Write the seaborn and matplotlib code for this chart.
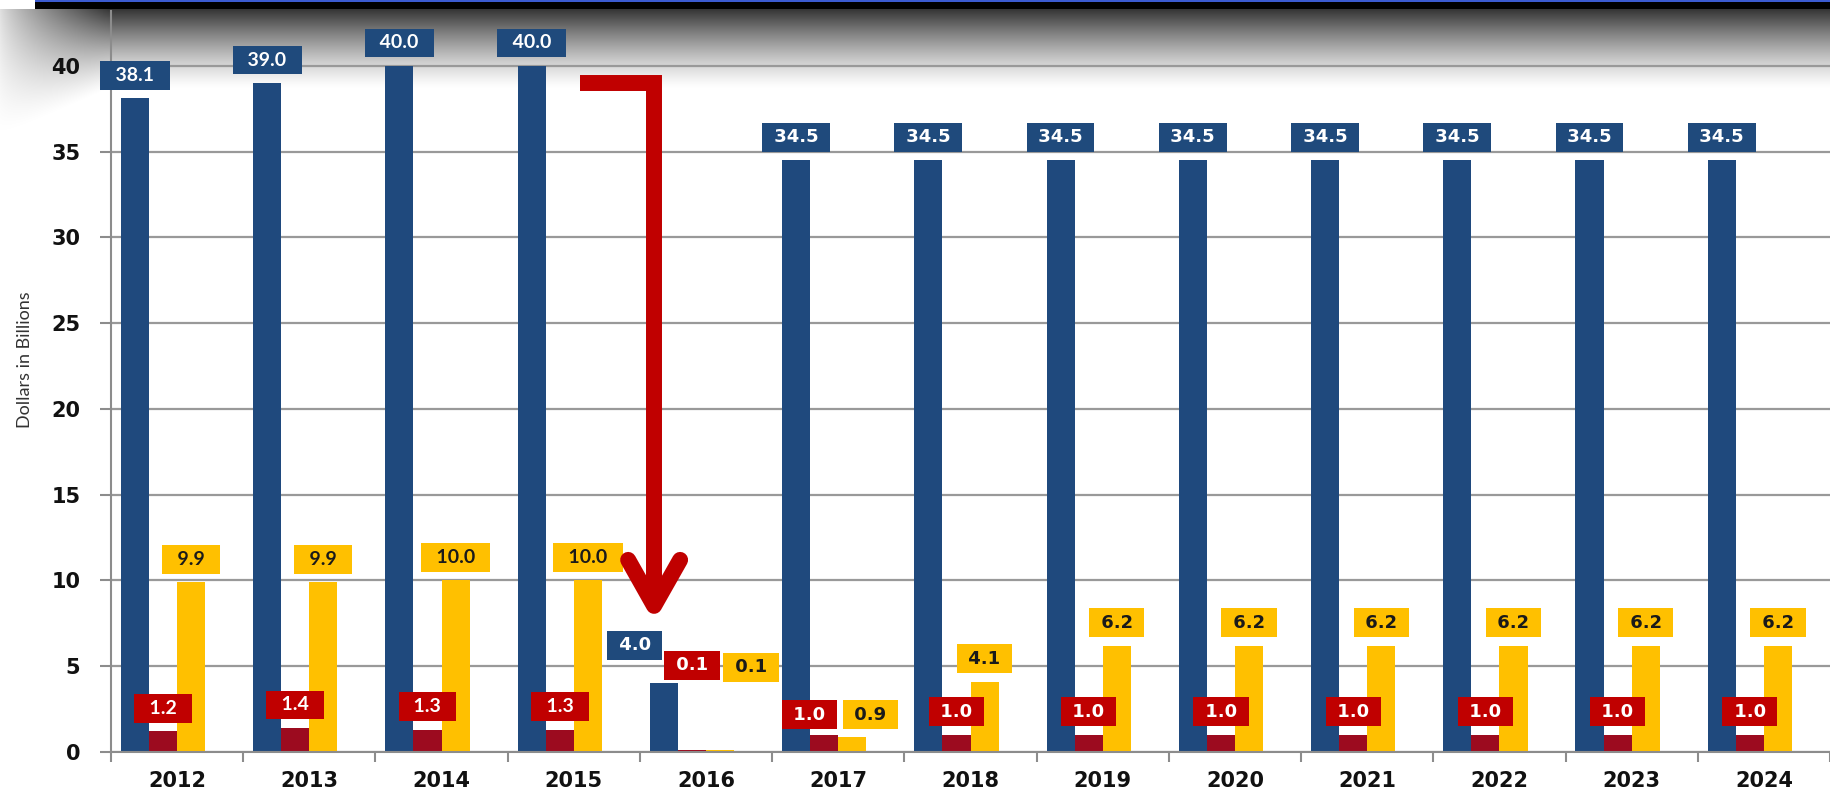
import numpy as np
import pandas as pd
import matplotlib
matplotlib.use('Agg')
import matplotlib.pyplot as plt
from matplotlib.patches import Rectangle
import seaborn as sns

# --- values (dollars in billions) ---
years = ['2012', '2013', '2014', '2015', '2016', '2017', '2018',
         '2019', '2020', '2021', '2022', '2023', '2024']
blue_vals = [38.1, 39.0, 40.0, 40.0, 4.0, 34.5, 34.5, 34.5, 34.5, 34.5, 34.5, 34.5, 34.5]
red_vals = [1.2, 1.4, 1.3, 1.3, 0.1, 1.0, 1.0, 1.0, 1.0, 1.0, 1.0, 1.0, 1.0]
yellow_vals = [9.9, 9.9, 10.0, 10.0, 0.1, 0.9, 4.1, 6.2, 6.2, 6.2, 6.2, 6.2, 6.2]
series_order = ['blue', 'red', 'yellow']
series_vals = {'blue': blue_vals, 'red': red_vals, 'yellow': yellow_vals}

bar_colors = {'blue': '#1f497d', 'red': '#9c0b1f', 'yellow': '#ffc000', 'spacer': 'white'}
box_colors = {'blue': '#1f4a7c', 'red': '#c00000', 'yellow': '#ffc000'}
text_colors = {'blue': 'white', 'red': 'white', 'yellow': '#1a1a1a'}

df = pd.DataFrame({
    'year': years * 3,
    'series': np.repeat(series_order, len(years)),
    'value': blue_vals + red_vals + yellow_vals,
})

sns.set_style('white')
plt.rcParams['font.family'] = ['DejaVu Sans']

W, H = 1830, 796
fig = plt.figure(figsize=(W / 100, H / 100), dpi=100)
fig.patch.set_facecolor('white')

# shadow under the slide title bar
bg = fig.add_axes([0, 0, 1, 1], zorder=0)
ys = np.arange(140) + 0.5
xs = np.arange(W) + 0.5
edge = np.clip(xs / 110, 0, 1)
reach = 80 + 50 * (1 - edge)
fade = 0.8 * np.clip(1 - (ys[:, None] - 9) / reach[None, :], 0, 1) ** 1.3
fade[ys < 9, :] = 0
fade *= (0.15 + 0.85 * edge ** 0.8)[None, :]
shade = np.zeros((140, W, 4))
shade[..., 3] = fade
bg.imshow(shade, extent=[0, W, 140, 0], aspect='auto', interpolation='bilinear')
bg.set_xlim(0, W)
bg.set_ylim(H, 0)
bg.axis('off')

# main chart
ax = fig.add_axes([111 / W, 44 / H, (W - 111) / W, 741 / H], zorder=1)
ax.patch.set_alpha(0)
sns.barplot(data=df, x='year', y='value', hue='series',
            hue_order=series_order + ['spacer'], palette=bar_colors,
            width=0.85, saturation=1, errorbar=None, legend=False,
            linewidth=0, ax=ax)

ax.set_xlim(-0.5, 12.5)
ax.set_ylim(0, 43.2)
ax.set_yticks(range(0, 41, 5))
ax.set_xticks(np.arange(-0.5, 13, 1), minor=True)
ax.yaxis.grid(True, color='#999999', linewidth=1.6)
ax.xaxis.grid(False)
ax.set_axisbelow(True)

ax.tick_params(axis='y', left=True, length=8, width=1.5, color='#8c8c8c',
               pad=14, labelsize=15, labelcolor='#111111')
ax.tick_params(axis='x', which='major', bottom=True, length=0, pad=14,
               labelsize=15, labelcolor='#111111')
ax.tick_params(axis='x', which='minor', bottom=True, length=7, width=1.5,
               color='#8c8c8c', direction='out')
for lab in ax.get_xticklabels() + ax.get_yticklabels():
    lab.set_fontweight('bold')

sns.despine(ax=ax)
for side in ['left', 'bottom']:
    ax.spines[side].set_color('#8c8c8c')
    ax.spines[side].set_linewidth(1.5)

ax.set_xlabel('')
ax.set_ylabel('Dollars in Billions', fontsize=13, family='Lato', color='#333333')
ax.yaxis.set_label_coords(-0.0454, 0.53)

# value boxes; some labels are pushed aside in the original
shift = {('blue', '2016'): (-29, 38), ('red', '2016'): (0, 85), ('yellow', '2016'): (31, 83),
         ('red', '2017'): (-15, 20), ('yellow', '2017'): (18, 22)}
for cont, name in zip(ax.containers, series_order):
    for bar, yr, v in zip(cont, years, series_vals[name]):
        dx, dy = shift.get((name, yr), (0, 23))
        narrow = int(yr) < 2016
        txt = f'  {v:.1f}  ' if narrow else f' {v:.1f} '
        ax.annotate(txt, xy=(bar.get_x() + bar.get_width() / 2, bar.get_height()),
                    xytext=(dx, dy), textcoords='offset pixels',
                    ha='center', va='center',
                    fontsize=14 if narrow else 13, fontweight='bold',
                    family='Lato' if narrow else 'DejaVu Sans',
                    color=text_colors[name],
                    bbox=dict(boxstyle='square,pad=0.3', fc=box_colors[name], ec='none'),
                    zorder=5)

# red callout arrow from 2015 down to 2016
arrow_kw = dict(color='#c00000', lw=11.5, zorder=6)
ax.plot([3.05, 3.607, 3.607], [39.03, 39.03, 9.0],
        solid_joinstyle='miter', solid_capstyle='butt', **arrow_kw)
ax.plot([3.411, 3.607, 3.804], [11.2, 8.52, 11.2],
        solid_joinstyle='round', solid_capstyle='round', **arrow_kw)

# title bar strip at the top
fig.add_artist(Rectangle((35 / W, 1 - 9 / H), 1 - 35 / W, 9 / H,
                         transform=fig.transFigure, fc='black', ec='none', zorder=10))
fig.add_artist(Rectangle((35 / W, 1 - 2 / H), 1 - 35 / W, 2 / H,
                         transform=fig.transFigure, fc='#3b5bd0', ec='none', zorder=11))

fig.savefig('out.png', dpi=100)
plt.close(fig)
